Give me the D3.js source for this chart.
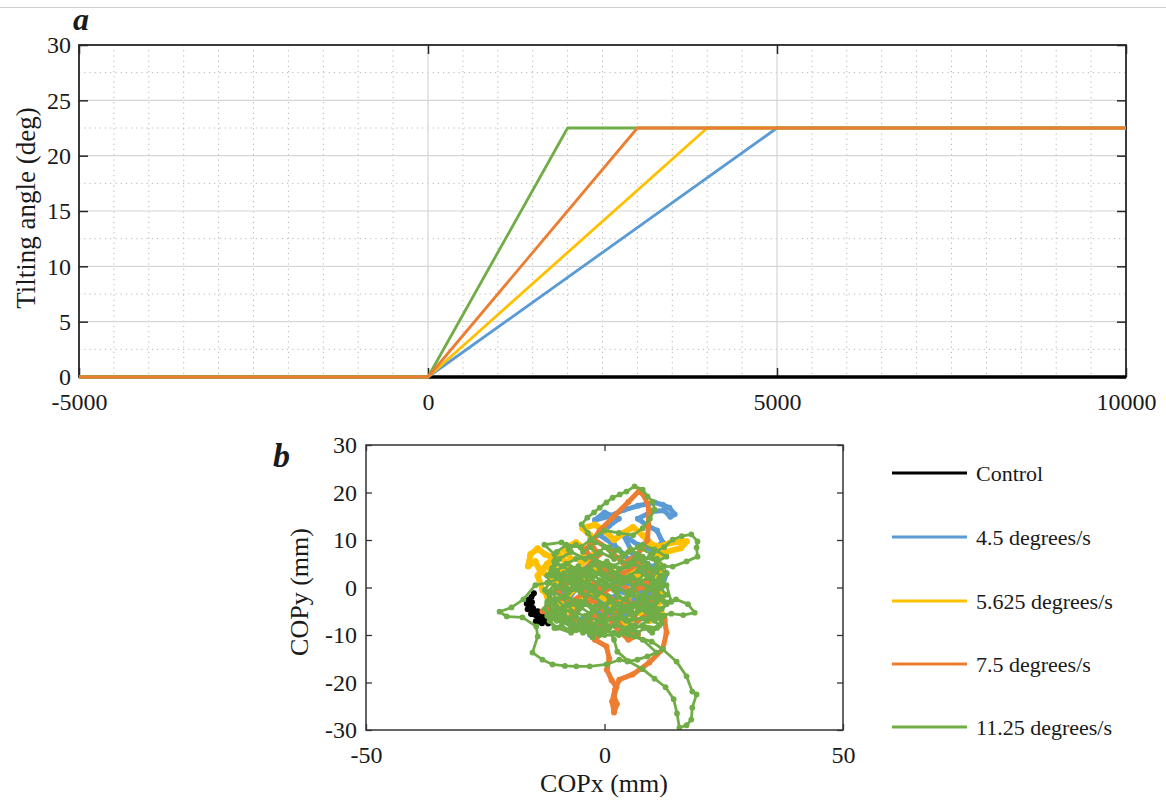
<!DOCTYPE html>
<html>
<head>
<meta charset="utf-8">
<script src="https://cdn.jsdelivr.net/npm/d3@7"></script>
<style>
  html, body { margin: 0; padding: 0; background: #fff; }
  svg { display: block; }
  text { font-family: "Liberation Serif", "Times New Roman", serif; fill: #1a1a1a; }
</style>
</head>
<body>
<svg id="fig" width="1166" height="801"></svg>
<script>
// ---- Panel a: platform tilt profiles (time in ms, angle in deg) ----
const seriesNames = ["Control", "4.5 degrees/s", "5.625 degrees/s", "7.5 degrees/s", "11.25 degrees/s"];
const seriesColors = ["#000000", "#5B9BD5", "#FFC000", "#ED7D31", "#70AD47"];

const timeControl = [-5000, 10000];
const angleControl = [0, 0];
const time45 = [-5000, 0, 5000, 10000];
const angle45 = [0, 0, 22.5, 22.5];
const time5625 = [-5000, 0, 4000, 10000];
const angle5625 = [0, 0, 22.5, 22.5];
const time75 = [-5000, 0, 3000, 10000];
const angle75 = [0, 0, 22.5, 22.5];
const time1125 = [-5000, 0, 2000, 10000];
const angle1125 = [0, 0, 22.5, 22.5];

const timeTicks = [-5000, 0, 5000, 10000];
const angleTicks = [0, 5, 10, 15, 20, 25, 30];

// ---- Panel b: centre-of-pressure traces (mm) ----
const copControl = [
  [-14.8,-1.2],[-15.3,-2.0],[-15.9,-2.6],[-15.2,-3.1],[-16.3,-3.4],[-15.6,-4.0],[-16.1,-4.6],
  [-15.0,-4.3],[-14.6,-5.1],[-15.4,-5.6],[-14.2,-6.0],[-13.6,-6.6],[-14.4,-7.1],[-13.1,-7.5],
  [-12.6,-7.0],[-11.8,-7.6],[-12.4,-6.3],[-13.3,-5.8],[-14.0,-5.0],[-15.0,-4.8],[-15.8,-4.2]
];
const cop45 = [
  [-3,-2],[-6,-4],[-9,-1],[-7,2],[-4,0],[-1,-3],[2,-5],[-1,-8],[-3,-10],[0,-9],[3,-7],[6,-4],
  [9,-2],[12,0],[13,3],[11,5],[8,3],[5,6],[2,9],[-1,11],[1,13],[3,14.5],[0,15.8],[-2,14.2],
  [1,15],[4,16.3],[7,17.2],[10.5,17.9],[12.2,17.4],[13.6,16.8],[14.7,15.4],[13.8,14.9],
  [12.5,16.2],[10,16],[7,14.5],[9,13],[11,12],[12.2,9.5],[10,8],[7,9],[4,11],[6,7],[9,5],
  [12,3],[10,0],[7,-3],[4,-1],[1,2],[-2,4],[-5,1],[-8,-3],[-10,-6],[-7,-8],[-4,-6],[-1,-5],
  [2,-2],[5,1],[8,-1],[10,-5],[7,-7],[3,-8],[0,-6]
];
const cop5625 = [
  [-8,0],[-11,2],[-13.5,3.5],[-14.5,5.5],[-16,4.5],[-15.5,7],[-14,8.2],[-12.5,7],[-10,6],
  [-11.5,4],[-9,3.5],[-7,6],[-8.5,8],
  [-6,9.5],[-4,8],[-5,5],[-2,7],[-3,11],[-4.6,12.5],[-2,13.2],[0,12],[2,10],[4,11.5],[6,12.7],
  [8,11],[10,9],[11.5,8.6],[13.5,9.3],[15.5,9.6],[17.2,9.7],[16,8.3],[13,7.5],[10.5,6.5],
  [12,4],[10,1],[12.5,-1.5],[11,-4],[12.5,-6],[9.5,-7],[7,-5],[5,-8],[3,-6],[1,-3],[-2,-1],
  [-5,-3],[-8,-5],[-11,-6.5],[-9,-3],[-6,0],[-3,3],[0,5],[3,2],[6,4],[8,1],[5,-2],[2,-4],
  [-1,0],[-4,2],[-7,3],[-10,1],[-12,-2],[-10,-4],[-13,-0.5],[-14,2.5],[-12,5],[-9.5,7],
  [-7.5,4.5],[-10,2.5]
];
const cop75 = [
  [-12,-4],[-10.5,-5.5],[-13,-5],[-11,-3],[-8,-2],[-5,-4],[-7,-6],[-4,-8],[-2,-6],[0,-9],
  [-2,-11],[0.4,-12.4],[1,-15],[0.5,-17.3],[1.5,-19.5],[2.5,-21],[2,-23],[2.6,-24.5],[2,-26.3],
  [1.6,-24],[2.2,-21.5],[3.1,-19.4],[5.9,-18.3],[9.4,-15.8],[12.2,-13],[13,-9.5],[12.6,-6.7],
  [10,-5],[7,-7],[4,-4],[1,-2],[-2,1],[-5,0],[-8,2],[-6,4],[-3,2],[0,4],[3,1],[6,-1],[9,1],
  [11,-2],[8,-4],[5,-3],[2,-6],[4,-9],[7,-10],[5,-11],[2,-8],[-1,-4],[-4,-1],[-7,-3],[-10,-1],
  [-8,1],[-4,4],[-1,7],[-3,9],[-1,12],[2,15],[5,18],[7.3,20.4],[8.5,19],[9.3,16.5],[9.2,13],
  [9,10],[7,7],[4,5],[1,8],[-2,10],[-4,8],[-2,5],[1,3],[4,3],[7,5],[10,3],[8,0],[5,2],[2,0],
  [-1,-1],[-3,-3]
];
const cop1125 = [
  [0,0],[-3,2],[-6,0],[-9,2],[-12,1],[-14.5,0.5],[-17,-2.5],[-19.5,-4.2],
  [-22,-5.1],[-20.5,-6.1],[-17.2,-6.3],[-14.3,-8.2],[-14,-10.3],
  [-15.1,-13.7],[-13,-15.2],[-10.9,-16.2],[-8.3,-16.5],[-5.9,-16.6],[-3.1,-16.6],[0.4,-16.2],
  [3.1,-15.2],[4.8,-15.6],[6.9,-15.2],[9,-14.5],[10.9,-13.7],[8,-11],[5,-10],[2,-9.5],
  [-1,-9],[-4,-8.5],[-7,-8],[-10,-7],[-12,-6],[-10,-4.5],[-7,-5],[-4,-6],[-1,-7],[2,-6.5],
  [5,-7],[8,-6.5],[11,-6],[14,-5.5],[16.5,-5.8],[18.9,-5.3],[17.5,-3.5],[15,-2.5],[12.5,-3],
  [10,-2],[7,-3],[4,-4],[1,-3],[-2,-4],[-5,-3],[-8,-2],[-11,-1],[-9,1],[-6,3],[-3,4],[0,2],
  [3,1],[6,2],[9,0],[12,1],[13,3],[11,4.5],[14.3,4.4],[17.2,5.5],[19.5,6.5],[19.3,8.4],
  [19.5,9.7],[18.2,11.2],[16.2,10.8],[14.3,10.1],[12.5,8.5],[10,7],[7,8.5],[4,7],[1,8.5],
  [-2,9.5],[-3.5,11.5],[-4.8,13.3],[-3.6,14.7],[-2.2,15.8],[-1,16.8],[0.4,17.9],[1.7,18.9],
  [3.2,19.6],[4.6,20.2],[6.3,21.3],[8,20.6],[9,19.2],[10.1,18.1],[10.5,16.4],[9.5,14.5],
  [8,12.5],[6,11],[3,11.5],[0,12],[-3,10],[-5,8.5],[-8,9],[-10,7.5],[-10.5,5.5],[-9,4.5],
  [-6,6],[-3,6.5],[0,5],[3,4],[6,5],[9,4],[12,2.5],[10.5,-0.5],[7.5,1],[4.5,-1],[1.5,0.5],
  [-1.5,-1.5],[-4.5,0],[-7.5,-1],[-10.5,-3],[-8.5,-5.5],[-5.5,-8],[-2.5,-10.5],[0.5,-8],
  [2,-11],[2.7,-13.5],[5,-15.5],[8,-17.2],[10.5,-19.2],[12.8,-21],[14.5,-23.5],[15.2,-26.5],
  [15.7,-29.5],[17.2,-29],[18.2,-27.8],[18.4,-25.3],[19.3,-22.5],[18.4,-21.9],[17.2,-18.7],
  [15.1,-15.6],[12.2,-13],[9.9,-11.4],[6.3,-10.3],[3.5,-9.5],[6.5,-8],[9.5,-9],[12,-7.5],
  [10,-4.5],[7,-5],[4,-6.5],[1,-5],[-2,-2],[-5,-1],[-8,0],[-10,2],[-7,4],[-4,1],[-1,3],[2,3],
  [5,4.5],[8,6.5],[11,5.5],[13,6.5],[10.5,8],[8,9],[5,7.5],[2,6],[-1,7.5],[-4,6],[-7,7.5],
  [-9.5,6],[-11,4],[-11,2.5],[-8.5,3],[-6,1.5],[-3,3],[0,1],[3,2.5],[6,0.5],[9,2],
  [11.5,0],[13,-1.5],[11,-3],[8.5,-1.5],[6,-3.5],[3,-2],[0,-4],[-3,-5.5],[-6,-3.5],[-9,-4.5],
  [-12,-3],[-12.5,-4.5],[-11.5,-7],[-10,-8.5],[-7,-9.5],[-4,-7.5],[-1,-10],[2,-8],[5,-8.5],
  [8,-8],[11,-8.5],[12.5,-6],[10,-6.5],[7,-4],[4,-5],[1,-2],[-2,-0.5],[-5,1],[-8,-0.5],
  [-10.5,0.5],[-12,-1],[-11.5,-2.5],[-9,-2],[-6,-6],[-3,-8],[0,-6],[3,-3.5],[6,-1.5],[9,-4],
  [12,-4.5],[14,-3],[13,0.5],[10,1.5],[7,3.5],[4,2],[1,4],[-2,5.5],[-5,3.5],[-8,5],[-10,3.5],
  [-7,1],[-4,-2],[-1,1.5],[2,-0.5],[5,1.5],[8,-2.5],[5,-5],[2,-4.5],[-1,-6],[-4,-3.5],[-7,-7],
  [-10,-5.5],[-11,-5],[-9,-7],[-6,-9],[-3,-9.5],[0,-10],[3,-10],[6,-9],[9,-7],[11,-5],[13,-3.5],
  [12,-2],[11,-1],[12.5,0.5],[11.5,2],[10,1],[9,2.5],[10.5,3.5],[9,5],[7.5,4],[6,5.5],[7,7],
  [5.5,8],[4,6.5],[3,8],[1.5,7],[0,8.5],[-1.5,7],[-3,8.5],[-4.5,7.5],[-6,9],[-7.5,8],[-9,9.5],
  [-12.6,9],[-10.5,7],[-10.5,5.5],[-11,4],[-12,2.5],[-11.5,1],[-12.5,-0.5],
  [-11.5,-2],[-12,-3.5],[-11,-4.5],[-11.5,-5.5],[-10.5,-6.5],[-9,-5.5],[-8,-7],
  [-6.5,-6],[-5,-7.5],[-3.5,-6.5],[-2,-8],[-0.5,-7],[1,-8.5],[2.5,-7.5],[4,-9],[5.5,-8],
  [7,-9.5],[8.5,-8.5],[10,-9.5],[11.5,-8],[10.5,-7],[12,-6],[11,-4.5],[9.5,-5.5],[8,-4],
  [6.5,-5.5],[5,-4],[3.5,-5.5],[2,-4],[0.5,-5],[-1,-3.5],[-2.5,-4.5],[-4,-3],[-5.5,-4.5],
  [-7,-3],[-8.5,-4],[-10,-2.5],[-11,-1],[-9.5,0],[-8,-1],[-6.5,0.5],[-5,-0.5],[-3.5,1],
  [-2,0],[-0.5,1.5],[1,0.5],[2.5,2],[4,1],[5.5,2.5],[7,1.5],[8.5,3],[10,2],[11,3.5],[12.5,4.5],
  [11,6],[9.5,6.5],[8,5.5],[6.5,6.5],[5,5],[3.5,5.5],[2,4.5],[0.5,5.5],[-1,4],[-2.5,5],
  [-4,3.5],[-5.5,4.5],[-7,3],[-8.5,4.5],[-10,5],[-11,3.5],[-9.5,2.5],[-8,1.5],[-6.5,2],
  [-5,2.5],[-3.5,2],[-2,2.5],[-0.5,3],[1,2],[2.5,-1],[4,-2.5],[5.5,-1],[7,-2],[8.5,-1],
  [10,-0.5],[11.5,-2.5],[10.5,-3.5],[9,-3],[7.5,-4.5],[6,-6.5],[4.5,-7],[3,-6],[1.5,-6.5],
  [0,-7.5],[-1.5,-9],[-3,-8.5],[-4.5,-9.5],[-6,-8.5],[-7.5,-9],[-9,-8],[-10.5,-8.5],
  [-11.5,-7],[-11,-5.5]
];

const copXTicks = [-50, 0, 50];
const copYTicks = [-30, -20, -10, 0, 10, 20, 30];

const fontFam = "Liberation Serif, Times New Roman, serif";
const plainNum = d => String(d);   // ASCII hyphen for negatives
const svg = d3.select("#fig");

// page separator line along the top
svg.append("line").attr("x1", 0).attr("x2", 1166).attr("y1", 7.5).attr("y2", 7.5)
  .attr("stroke", "#cfcfcf").attr("stroke-width", 1);

// ================= Panel a =================
const ax = { left: 79, right: 1126, top: 45, bottom: 377 };
const xA = d3.scaleLinear().domain([-5000, 10000]).range([ax.left, ax.right]);
const yA = d3.scaleLinear().domain([0, 30]).range([ax.bottom, ax.top]);
const gA = svg.append("g");

// minor dotted grid
const minorX = d3.range(-5000, 10001, 500).filter(v => v % 5000 !== 0);
const minorY = d3.range(2.5, 30, 5);
gA.append("g").selectAll("line").data(minorX).join("line")
  .attr("x1", d => xA(d)).attr("x2", d => xA(d)).attr("y1", ax.top).attr("y2", ax.bottom)
  .attr("stroke", "#b5b5b5").attr("stroke-width", 1).attr("stroke-dasharray", "1.2,4");
gA.append("g").selectAll("line").data(minorY).join("line")
  .attr("x1", ax.left).attr("x2", ax.right).attr("y1", d => yA(d)).attr("y2", d => yA(d))
  .attr("stroke", "#b5b5b5").attr("stroke-width", 1).attr("stroke-dasharray", "1.2,4");
// major solid grid
gA.append("g").selectAll("line").data(timeTicks.slice(1, -1)).join("line")
  .attr("x1", d => xA(d)).attr("x2", d => xA(d)).attr("y1", ax.top).attr("y2", ax.bottom)
  .attr("stroke", "#d6d6d6").attr("stroke-width", 1.2);
gA.append("g").selectAll("line").data(angleTicks.slice(1, -1)).join("line")
  .attr("x1", ax.left).attr("x2", ax.right).attr("y1", d => yA(d)).attr("y2", d => yA(d))
  .attr("stroke", "#d6d6d6").attr("stroke-width", 1.2);

// axes box and inward ticks
const frameA = "#262626";
gA.append("rect").attr("x", ax.left).attr("y", ax.top)
  .attr("width", ax.right - ax.left).attr("height", ax.bottom - ax.top)
  .attr("fill", "none").attr("stroke", frameA).attr("stroke-width", 1.8);
gA.append("g").attr("transform", `translate(0,${ax.bottom})`)
  .call(d3.axisBottom(xA).tickValues(timeTicks).tickSize(-9).tickPadding(16).tickFormat(plainNum))
  .call(g => g.select(".domain").remove())
  .call(g => g.selectAll("line").attr("stroke", frameA).attr("stroke-width", 1.5))
  .call(g => g.selectAll("text").attr("font-size", 24).attr("fill", "#1a1a1a").attr("font-family", fontFam));
gA.append("g").attr("transform", `translate(0,${ax.top})`)
  .call(d3.axisTop(xA).tickValues(timeTicks).tickSize(-9).tickFormat(""))
  .call(g => g.select(".domain").remove())
  .call(g => g.selectAll("line").attr("stroke", frameA).attr("stroke-width", 1.5));
gA.append("g").attr("transform", `translate(${ax.left},0)`)
  .call(d3.axisLeft(yA).tickValues(angleTicks).tickSize(-9).tickPadding(8).tickFormat(plainNum))
  .call(g => g.select(".domain").remove())
  .call(g => g.selectAll("line").attr("stroke", frameA).attr("stroke-width", 1.5))
  .call(g => g.selectAll("text").attr("font-size", 24).attr("fill", "#1a1a1a").attr("font-family", fontFam));
gA.append("g").attr("transform", `translate(${ax.right},0)`)
  .call(d3.axisRight(yA).tickValues(angleTicks).tickSize(-9).tickFormat(""))
  .call(g => g.select(".domain").remove())
  .call(g => g.selectAll("line").attr("stroke", frameA).attr("stroke-width", 1.5));

// tilt profiles, drawn over the frame
const tiltSeries = [
  { t: timeControl, a: angleControl, c: seriesColors[0], w: 3.4 },
  { t: time45, a: angle45, c: seriesColors[1], w: 2.8 },
  { t: time5625, a: angle5625, c: seriesColors[2], w: 2.8 },
  { t: time1125, a: angle1125, c: seriesColors[4], w: 2.8 },
  { t: time75, a: angle75, c: seriesColors[3], w: 2.8 }
];
const lineA = d3.line().x(d => xA(d[0])).y(d => yA(d[1]));
tiltSeries.forEach(s => {
  gA.append("path").datum(s.t.map((t, i) => [t, s.a[i]]))
    .attr("d", lineA).attr("fill", "none").attr("stroke", s.c)
    .attr("stroke-width", s.w).attr("stroke-linejoin", "round");
});

gA.append("text").attr("transform", "translate(35,208) rotate(-90)")
  .attr("text-anchor", "middle").attr("font-size", 27).text("Tilting angle (deg)");
svg.append("text").attr("x", 73).attr("y", 30).attr("font-size", 32)
  .attr("font-weight", "bold").attr("font-style", "italic").text("a");

// ================= Panel b =================
const bx = { left: 366, right: 843, top: 445, bottom: 730 };
const xB = d3.scaleLinear().domain([-50, 50]).range([bx.left, bx.right]);
const yB = d3.scaleLinear().domain([-30, 30]).range([bx.bottom, bx.top]);
const gB = svg.append("g");

svg.append("defs").append("clipPath").attr("id", "clipB")
  .append("rect").attr("x", bx.left).attr("y", bx.top)
  .attr("width", bx.right - bx.left).attr("height", bx.bottom - bx.top);

const copSeries = [
  { d: copControl, c: seriesColors[0], w: 4.5, r: 3 },
  { d: cop45, c: seriesColors[1], w: 5, r: 3 },
  { d: cop5625, c: seriesColors[2], w: 6, r: 3.2 },
  { d: cop75, c: seriesColors[3], w: 5, r: 3 },
  { d: cop1125, c: seriesColors[4], w: 2.8, r: 2.9 }
];
const lineB = d3.line().x(d => xB(d[0])).y(d => yB(d[1]));
const plotB = gB.append("g").attr("clip-path", "url(#clipB)");
copSeries.forEach(s => {
  const g = plotB.append("g");
  g.append("path").datum(s.d).attr("d", lineB).attr("fill", "none")
    .attr("stroke", s.c).attr("stroke-width", s.w)
    .attr("stroke-linejoin", "round").attr("stroke-linecap", "round");
  g.selectAll("circle").data(s.d).join("circle")
    .attr("cx", d => xB(d[0])).attr("cy", d => yB(d[1])).attr("r", s.r).attr("fill", s.c);
});

const frameB = "#333333";
gB.append("rect").attr("x", bx.left).attr("y", bx.top)
  .attr("width", bx.right - bx.left).attr("height", bx.bottom - bx.top)
  .attr("fill", "none").attr("stroke", frameB).attr("stroke-width", 1.5);
gB.append("g").attr("transform", `translate(0,${bx.bottom})`)
  .call(d3.axisBottom(xB).tickValues(copXTicks).tickSize(-6).tickPadding(16).tickFormat(plainNum))
  .call(g => g.select(".domain").remove())
  .call(g => g.selectAll("line").attr("stroke", frameB).attr("stroke-width", 1.3))
  .call(g => g.selectAll("text").attr("font-size", 24).attr("fill", "#1a1a1a").attr("font-family", fontFam));
gB.append("g").attr("transform", `translate(0,${bx.top})`)
  .call(d3.axisTop(xB).tickValues(copXTicks).tickSize(-6).tickFormat(""))
  .call(g => g.select(".domain").remove())
  .call(g => g.selectAll("line").attr("stroke", frameB).attr("stroke-width", 1.3));
gB.append("g").attr("transform", `translate(${bx.left},0)`)
  .call(d3.axisLeft(yB).tickValues(copYTicks).tickSize(-6).tickPadding(9).tickFormat(plainNum))
  .call(g => g.select(".domain").remove())
  .call(g => g.selectAll("line").attr("stroke", frameB).attr("stroke-width", 1.3))
  .call(g => g.selectAll("text").attr("font-size", 24).attr("fill", "#1a1a1a").attr("font-family", fontFam));
gB.append("g").attr("transform", `translate(${bx.right},0)`)
  .call(d3.axisRight(yB).tickValues(copYTicks).tickSize(-6).tickFormat(""))
  .call(g => g.select(".domain").remove())
  .call(g => g.selectAll("line").attr("stroke", frameB).attr("stroke-width", 1.3));

gB.append("text").attr("transform", "translate(308,592) rotate(-90)")
  .attr("text-anchor", "middle").attr("font-size", 26).text("COPy (mm)");
gB.append("text").attr("x", 604).attr("y", 792)
  .attr("text-anchor", "middle").attr("font-size", 26).text("COPx (mm)");
svg.append("text").attr("x", 273).attr("y", 467).attr("font-size", 34)
  .attr("font-weight", "bold").attr("font-style", "italic").text("b");

// legend
const legendY = [473, 537, 601, 664, 727];
const leg = svg.append("g").selectAll("g").data(seriesNames).join("g")
  .attr("transform", (d, i) => `translate(0,${legendY[i]})`);
leg.append("line").attr("x1", 892).attr("x2", 967).attr("y1", 0).attr("y2", 0)
  .attr("stroke", (d, i) => seriesColors[i]).attr("stroke-width", 3);
leg.append("text").attr("x", 976).attr("y", 8).attr("font-size", 22).text(d => d);
</script>
</body>
</html>
